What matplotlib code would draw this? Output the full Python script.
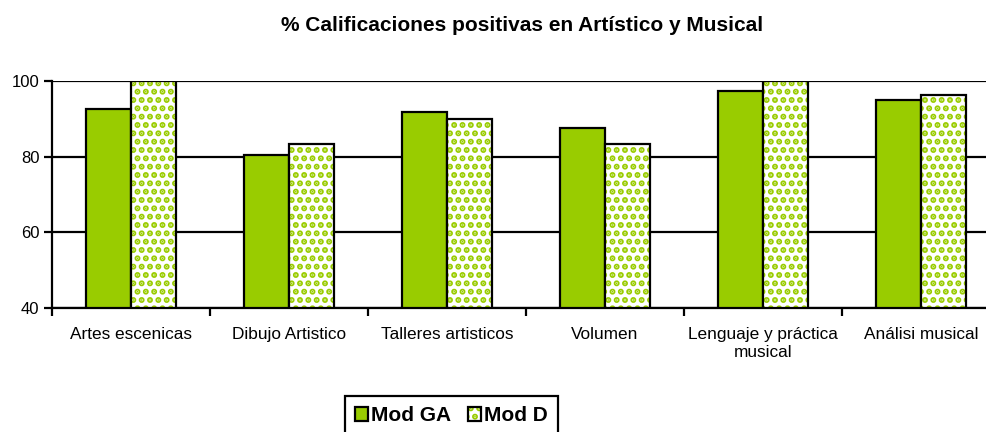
import matplotlib
matplotlib.use("Agg")
import matplotlib.pyplot as plt
from matplotlib.patches import Patch
from matplotlib.legend_handler import HandlerTuple
import numpy as np

plt.rcParams['font.family'] = ['Liberation Sans', 'DejaVu Sans']
plt.rcParams['hatch.linewidth'] = 3.0

# Datos
categorias = ['Artes escenicas', 'Dibujo Artistico', 'Talleres artisticos',
              'Volumen', 'Lenguaje y práctica\nmusical', 'Análisi musical']
mod_ga = [92.5, 80.4, 91.8, 87.6, 97.4, 95.0]
mod_d = [100.0, 83.3, 90.0, 83.3, 100.0, 96.3]

verde = '#99cc00'
ancho = 0.285

fig = plt.figure(figsize=(9.86, 4.32), dpi=100)
ax = fig.add_axes([52 / 986, 1 - 308 / 432, 948 / 986, 227 / 432])

x = np.arange(len(categorias))

# Mod GA: barras verdes
ax.bar(x - ancho / 2, mod_ga, ancho, color=verde,
       edgecolor='black', linewidth=1.6, zorder=3)
# Mod D: fondo blanco con puntos verdes y borde negro encima
ax.bar(x + ancho / 2, mod_d, ancho, color='white', edgecolor=verde,
       hatch='..', linewidth=0, zorder=3)
ax.bar(x + ancho / 2, mod_d, ancho, color='none', edgecolor='black',
       linewidth=1.6, zorder=4)

ax.set_ylim(40, 100)
ax.set_xlim(-0.5, len(categorias) - 0.5)
ax.set_yticks([40, 60, 80, 100])
ax.yaxis.grid(True, color='black', linewidth=1.6, zorder=0)
ax.set_axisbelow(True)

ax.set_xticks(x)
ax.set_xticklabels(categorias, fontsize=12.4, linespacing=1.2)
ax.tick_params(axis='x', which='major', length=0, pad=14)
ax.set_xticks(np.arange(len(categorias) + 1) - 0.5, minor=True)
ax.tick_params(axis='x', which='minor', length=6, width=1.6, direction='out')
ax.tick_params(axis='y', labelsize=12, length=6, width=1.6, pad=3)

for lado in ['top', 'right']:
    ax.spines[lado].set_visible(False)
for lado in ['left', 'bottom']:
    ax.spines[lado].set_linewidth(1.6)
ax.spines['bottom'].set_zorder(5)

fig.text(522 / 986, 1 - 31 / 432, '% Calificaciones positivas en Artístico y Musical',
         ha='center', va='baseline', fontsize=15, fontweight='bold')

h_ga = Patch(facecolor=verde, edgecolor='black', linewidth=1.6)
h_d = (Patch(facecolor='white', edgecolor=verde, hatch='..', linewidth=0),
       Patch(facecolor='none', edgecolor='black', linewidth=1.6))
leg = fig.legend([h_ga, h_d], ['Mod GA', 'Mod D'],
                 handler_map={tuple: HandlerTuple(ndivide=1, pad=0)},
                 loc='upper left', bbox_to_anchor=(345 / 986, 1 - 396 / 432),
                 ncol=2, fancybox=False, edgecolor='black', framealpha=1,
                 prop={'weight': 'bold', 'size': 15},
                 handlelength=0.62, handleheight=0.62, handletextpad=0.15,
                 columnspacing=0.8, borderpad=0.5, borderaxespad=0)
leg.get_frame().set_linewidth(1.6)

fig.savefig('out.png', dpi=100)
